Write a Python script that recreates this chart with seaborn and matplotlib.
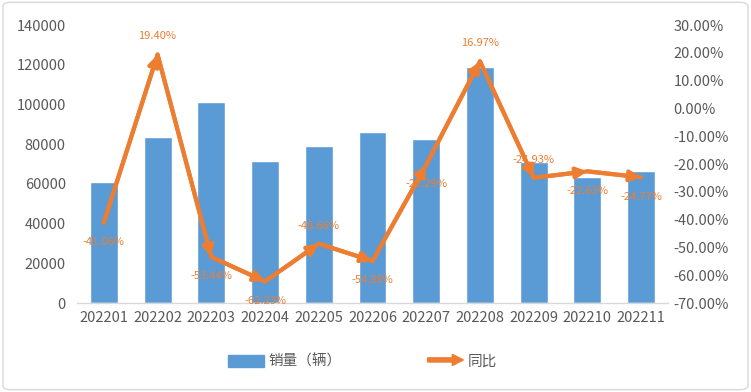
import matplotlib
matplotlib.use("Agg")
import matplotlib.pyplot as plt
import matplotlib.patches as mpatches
from matplotlib.legend_handler import HandlerPatch
from matplotlib.ticker import FuncFormatter, MultipleLocator
import seaborn as sns
import numpy as np
import pandas as pd

months = ["202201", "202202", "202203", "202204", "202205", "202206",
          "202207", "202208", "202209", "202210", "202211"]
sales = [61000, 83600, 101200, 71500, 79000, 86100, 82600, 118800, 71000, 63500, 66500]
yoy = [-41.06, 19.40, -53.44, -62.23, -48.66, -54.88, -20.29, 16.97, -24.93, -22.63, -24.77]
label_pos = ["below", "above", "below", "below", "above", "below", "below", "above", "above", "below", "below"]

BLUE = "#5B9BD5"
ORANGE = "#ED7D31"
GRAY = "#595959"

sns.set_theme(style="white")
plt.rcParams['font.family'] = ['Noto Sans CJK SC', 'DejaVu Sans']

df = pd.DataFrame({"month": months, "sales": sales, "yoy": yoy, "idx": np.arange(len(months))})

fig = plt.figure(figsize=(7.51, 3.92), dpi=100)
ax = fig.add_axes([0.1025, 0.227, 0.787, 0.709])

sns.barplot(data=df, x="month", y="sales", color=BLUE, width=0.52, ax=ax, saturation=1)
ax.set_ylim(0, 140000)
ax.yaxis.set_major_locator(MultipleLocator(20000))
ax.set_xlabel("")
ax.set_ylabel("")
for s in ["top", "right", "left"]:
    ax.spines[s].set_visible(False)
ax.spines["bottom"].set_color("#D9D9D9")
ax.spines["bottom"].set_linewidth(1)
ax.tick_params(axis="both", length=0, labelsize=10.5, colors=GRAY)
ax.tick_params(axis="x", pad=6)
ax.tick_params(axis="y", pad=8)

ax2 = ax.twinx()
sns.lineplot(data=df, x="idx", y="yoy", color=ORANGE, linewidth=3.0, ax=ax2, legend=False)
ax2.set_ylim(-70, 30)
ax2.yaxis.set_major_locator(MultipleLocator(10))
ax2.yaxis.set_major_formatter(FuncFormatter(lambda v, p: f"{v:.2f}%"))
ax2.set_xlabel("")
ax2.set_ylabel("")
for s in ax2.spines.values():
    s.set_visible(False)
ax2.tick_params(axis="y", length=0, labelsize=10.5, colors=GRAY, pad=4)
ax.set_xlim(-0.5, len(months) - 0.5)

# arrowheads on each segment end
xs = df["idx"].values
ys = df["yoy"].values
for i in range(1, len(xs)):
    ax2.annotate("", xy=(xs[i], ys[i]), xytext=(xs[i - 1], ys[i - 1]),
                 arrowprops=dict(arrowstyle="-|>,head_length=0.9,head_width=0.45",
                                 color=ORANGE, lw=3.0, shrinkA=0, shrinkB=0,
                                 mutation_scale=7))

for x, y, pos in zip(xs, ys, label_pos):
    off = 13 if pos == "above" else -14
    ax2.annotate(f"{y:.2f}%", xy=(x, y), xytext=(0, off), textcoords="offset points",
                 ha="center", va="center", fontsize=8, color=ORANGE)


def make_arrow(legend, orig_handle, xdescent, ydescent, width, height, fontsize):
    return mpatches.FancyArrow(0, height / 2, width, 0, width=3, head_width=8,
                               head_length=8, length_includes_head=True, color=ORANGE)


h_bar = mpatches.Patch(color=BLUE, label="销量（辆）")
h_line = mpatches.FancyArrow(0, 0, 1, 0, color=ORANGE, label="同比")
leg = fig.legend(handles=[h_bar, h_line], labels=["销量（辆）", "同比"],
                 loc="center", bbox_to_anchor=(0.483, 0.077), ncol=2, frameon=False,
                 fontsize=10.5, handlelength=2.45, handleheight=0.9, columnspacing=5.9,
                 handletextpad=0.3,
                 handler_map={mpatches.FancyArrow: HandlerPatch(patch_func=make_arrow)})
for t in leg.get_texts():
    t.set_color(GRAY)

border = mpatches.FancyBboxPatch((0.004, 0.006), 0.992, 0.988, boxstyle="round,pad=0,rounding_size=0.01",
                                 transform=fig.transFigure, fill=False, edgecolor="#D9D9D9", lw=1)
fig.patches.append(border)

fig.savefig("out.png", dpi=100)
